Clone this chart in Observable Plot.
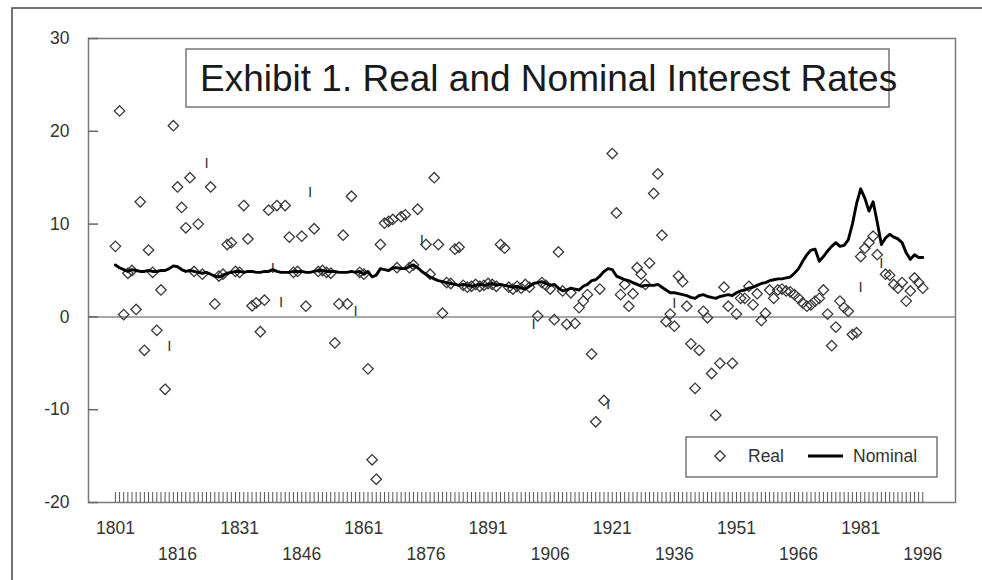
<!DOCTYPE html>
<html><head><meta charset="utf-8">
<script src="https://cdn.jsdelivr.net/npm/d3@7"></script>
<script src="https://cdn.jsdelivr.net/npm/@observablehq/plot@0.6"></script>
<style>
body{margin:0;background:#fff;}
#wrap{position:relative;width:982px;height:580px;overflow:hidden;}
</style></head><body><div id="wrap"></div>
<script>
const startYear = 1801;
const nominal = [
  5.6, 5.3, 5.1, 4.9, 5.1, 5.0, 4.9, 4.9, 5.0, 4.9,
  4.9, 5.0, 5.0, 5.2, 5.5, 5.4, 5.1, 4.9, 5.0, 4.9,
  4.8, 4.7, 4.8, 4.6, 4.4, 4.3, 4.5, 4.7, 4.8, 4.9,
  4.9, 4.8, 4.9, 4.9, 4.8, 4.8, 4.9, 4.9, 5.1, 4.9,
  4.8, 4.8, 4.8, 4.9, 4.9, 4.9, 4.8, 4.8, 4.9, 5.0,
  5.0, 4.9, 4.9, 4.9, 4.8, 4.8, 4.8, 4.9, 4.8, 4.9,
  4.6, 4.9, 4.3, 4.5, 5.2, 5.1, 5.0, 5.3, 5.3, 5.2,
  5.2, 5.4, 5.6, 5.3, 4.9, 4.6, 4.3, 4.1, 3.9, 3.8,
  3.7, 3.6, 3.5, 3.4, 3.5, 3.4, 3.3, 3.4, 3.5, 3.4,
  3.5, 3.6, 3.4, 3.5, 3.4, 3.3, 3.2, 3.3, 3.1, 3.0,
  3.3, 3.6, 3.7, 3.8, 3.6, 3.4, 3.5, 3.1, 2.8, 2.9,
  3.1, 3.0, 2.9, 3.3, 3.5, 3.9, 4.0, 4.4, 4.9, 5.2,
  5.1, 4.4, 4.2, 4.0, 3.9, 3.7, 3.5, 3.3, 3.4, 3.4,
  3.4, 3.5, 3.2, 2.9, 2.6, 2.6, 2.5, 2.4, 2.3, 2.1,
  2.0, 2.3, 2.4, 2.2, 2.1, 2.0, 2.2, 2.3, 2.4, 2.3,
  2.6, 2.8, 2.9, 3.1, 3.2, 3.4, 3.6, 3.7, 3.9, 4.0,
  4.1, 4.1, 4.2, 4.3, 4.7, 5.2, 6.0, 6.7, 7.2, 7.3,
  6.0, 6.5, 7.1, 7.6, 8.0, 7.6, 7.7, 8.3, 10.0, 12.2,
  13.8, 12.8, 11.4, 12.4, 10.2, 7.8, 8.5, 8.9, 8.6, 8.4,
  8.0, 6.9, 6.2, 6.7, 6.4, 6.4
];
const real = [
  7.6, 22.2, 0.25, 4.7, 5.0, 0.8, 12.4, -3.6, 7.2, 4.8,
  -1.45, 2.9, -7.8, null, 20.6, 14.0, 11.8, 9.6, 15.0, 4.9,
  10.0, 4.6, null, 14.0, 1.4, 4.4, 4.6, 7.8, 8.0, 4.9,
  4.8, 12.0, 8.4, 1.2, 1.5, -1.6, 1.8, 11.5, null, 12.0,
  null, 12.0, 8.6, 4.8, 4.9, 8.7, 1.15, null, 9.5, 4.9,
  5.0, 4.8, 4.7, -2.8, 1.4, 8.8, 1.4, 13.0, null, 4.8,
  4.6, -5.6, -15.4, -17.5, 7.8, 10.1, 10.3, 10.5, 5.3, 10.8,
  11.0, 5.3, 5.6, 11.6, null, 7.8, 4.6, 15.0, 7.8, 0.4,
  3.7, 3.6, 7.3, 7.5, 3.4, 3.2, 3.3, 3.5, 3.3, 3.4,
  3.6, 3.5, 3.3, 7.8, 7.4, 3.2, 3.0, 3.3, 3.1, 3.5,
  3.2, null, 0.1, 3.7, 3.4, 3.0, -0.3, 7.0, 2.8, -0.8,
  2.6, -0.7, 1.0, 1.7, 2.4, -4.0, -11.3, 3.0, -9.0, null,
  17.6, 11.2, 2.4, 3.5, 1.15, 2.5, 5.3, 4.6, 3.5, 5.8,
  13.3, 15.4, 8.8, -0.5, 0.3, -1.0, 4.4, 3.8, 1.15, -2.9,
  -7.7, -3.6, 0.6, -0.1, -6.1, -10.6, -5.0, 3.2, 1.15, -5.0,
  0.3, 2.0, 2.0, 3.3, 1.3, 2.5, -0.4, 0.4, 2.9, 2.0,
  2.9, 3.0, 2.8, 2.7, 2.4, 2.0, 1.5, 1.15, 1.3, 1.7,
  2.0, 2.9, 0.3, -3.1, -1.1, 1.7, 1.0, 0.6, -1.9, -1.7,
  6.5, 7.4, 8.0, 8.7, 6.7, null, 4.6, 4.5, 3.5, 3.1,
  3.7, 1.7, 2.8, 4.2, 3.7, 3.1
];
const flagYears = [1814, 1823, 1839, 1841, 1848, 1859, 1875, 1902, 1920, 1936, 1981, 1986];
const flagValues = [-3.2, 16.6, 5.2, 1.6, 13.4, 0.6, 8.3, -0.8, -9.4, 1.5, 3.2, 5.8];
const labelYearsTop = [1801, 1831, 1861, 1891, 1921, 1951, 1981];
const labelYearsBottom = [1816, 1846, 1876, 1906, 1936, 1966, 1996];
const yTicks = [-20, -10, 0, 10, 20, 30];
const titleText = "Exhibit 1. Real and Nominal Interest Rates";
const legendLabels = ["Real", "Nominal"];

const years = d3.range(startYear, startYear + nominal.length);
const nominalData = years.map((y, i) => ({year: y, value: nominal[i]}));
const realData = years.map((y, i) => ({year: y, value: real[i]})).filter(d => d.value != null);
const flagData = flagYears.map((y, i) => ({year: y, value: flagValues[i]}));

const font = "'Liberation Sans', Arial, sans-serif";
const chart = Plot.plot({
  width: 982, height: 580,
  marginLeft: 88, marginRight: 27, marginTop: 38, marginBottom: 78,
  style: {fontFamily: font, fontSize: "17.5px", color: "#333", background: "#fff"},
  x: {domain: [1794.5, 2003.9]},
  y: {domain: [-20, 30]},
  marks: [
    Plot.frame({stroke: "#7a7a7a", strokeWidth: 1.5}),
    Plot.ruleY([0], {stroke: "#8a8a8a", strokeWidth: 1.5}),
    Plot.tickX(years, {x: d => d, insetTop: 454, stroke: "#555", strokeWidth: 1}),
    Plot.tickY(yTicks, {y: d => d, insetRight: 857, stroke: "#666", strokeWidth: 1.5}),
    Plot.axisY({ticks: yTicks, tickSize: 0, tickPadding: 19, tickFormat: d => String(d), label: null}),
    Plot.axisX({ticks: labelYearsTop, tickSize: 0, tickPadding: 19, tickFormat: d => String(d), label: null}),
    Plot.axisX({ticks: labelYearsBottom, tickSize: 0, tickPadding: 45, tickFormat: d => String(d), label: null}),
    Plot.dot(realData, {x: "year", y: "value", symbol: "diamond2", r: 4.7, stroke: "#3a3a3a", strokeWidth: 1.3, fill: "none"}),
    Plot.text(flagData, {x: "year", y: "value", text: () => "I", fontSize: 15, fill: "#333"}),
    Plot.line(nominalData, {x: "year", y: "value", stroke: "#000", strokeWidth: 2.9})
  ]
});
document.getElementById("wrap").appendChild(chart);

const svg = d3.select(chart);
// outer border
svg.append("path").attr("d", "M12,580V8H982").attr("fill", "none").attr("stroke", "#444").attr("stroke-width", 1.5);
// title box
svg.append("rect").attr("x", 186).attr("y", 49).attr("width", 703).attr("height", 58)
  .attr("fill", "#fff").attr("stroke", "#777").attr("stroke-width", 1.5);
svg.append("text").attr("x", 200).attr("y", 90.5).attr("text-anchor", "start")
  .attr("font-family", font).attr("font-size", 37).attr("fill", "#1a1a1a").text(titleText);
// legend
const lg = svg.append("g").attr("text-anchor", "start");
lg.append("rect").attr("x", 686).attr("y", 437).attr("width", 251).attr("height", 40)
  .attr("fill", "#fff").attr("stroke", "#555").attr("stroke-width", 1.2);
lg.append("path").attr("d", d3.symbol(d3.symbolDiamond2, Math.PI * 4.7 * 4.7)())
  .attr("transform", "translate(720,456)").attr("fill", "none").attr("stroke", "#3a3a3a").attr("stroke-width", 1.3);
lg.append("text").attr("x", 748).attr("y", 462).attr("font-family", font).attr("font-size", 17.5)
  .attr("fill", "#333").text(legendLabels[0]);
lg.append("line").attr("x1", 808).attr("x2", 843).attr("y1", 456).attr("y2", 456)
  .attr("stroke", "#000").attr("stroke-width", 2.9);
lg.append("text").attr("x", 853).attr("y", 462).attr("font-family", font).attr("font-size", 17.5)
  .attr("fill", "#333").text(legendLabels[1]);
</script>
</body></html>
